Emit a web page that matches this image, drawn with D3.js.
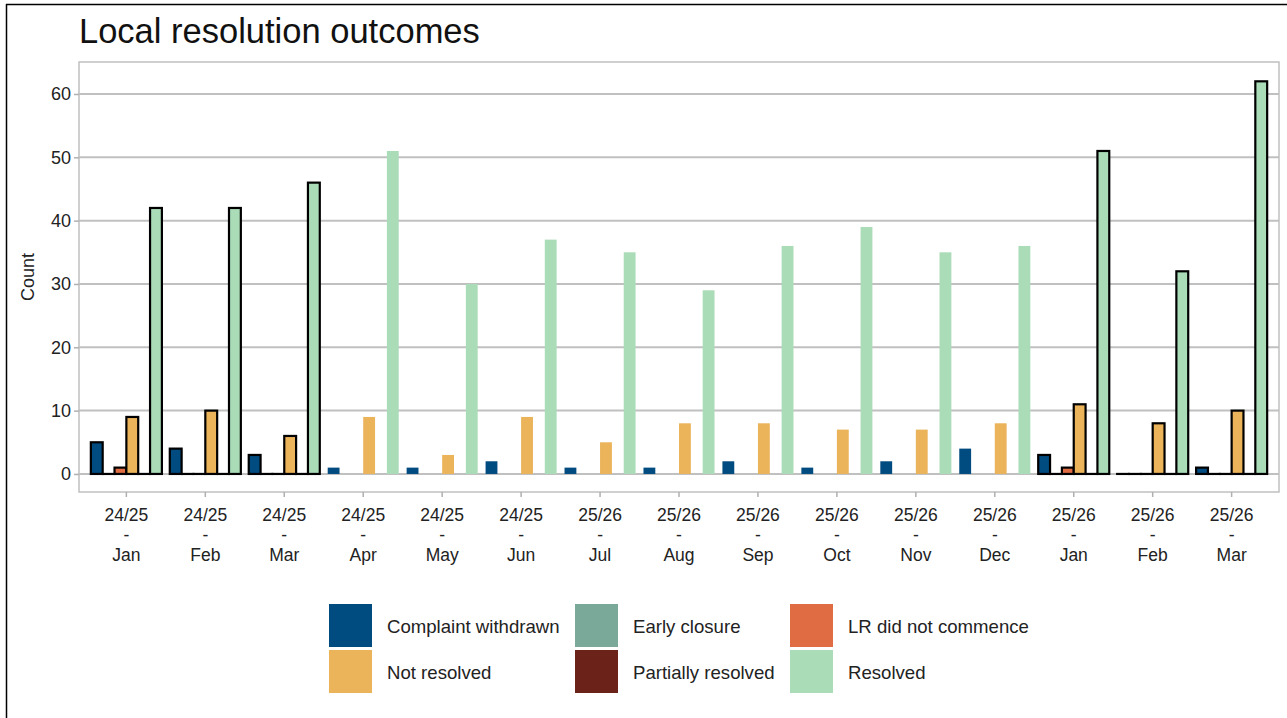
<!DOCTYPE html>
<html>
<head>
<meta charset="utf-8">
<script src="https://cdn.jsdelivr.net/npm/d3@7"></script>
<style>
  body { margin: 0; background: #fff; }
  svg { font-family: "Liberation Sans", Arial, sans-serif; display: block; }
</style>
</head>
<body>
<svg id="chart"></svg>
<script>
// months shown on the x axis (financial year / month)
const years = ["24/25","24/25","24/25","24/25","24/25","24/25","25/26","25/26","25/26","25/26","25/26","25/26","25/26","25/26","25/26"];
const months = ["Jan","Feb","Mar","Apr","May","Jun","Jul","Aug","Sep","Oct","Nov","Dec","Jan","Feb","Mar"];
// groups drawn with a black outline
const outlined = [true,true,true,false,false,false,false,false,false,false,false,false,true,true,true];

const seriesNames = ["Complaint withdrawn","Early closure","LR did not commence","Not resolved","Partially resolved","Resolved"];
const seriesColors = ["#004b7f","#7aa99a","#e06c44","#ebb35a","#6b2219","#aadcb8"];

const complaintWithdrawn = [5,4,3,1,1,2,1,1,2,1,2,4,3,0,1];
const earlyClosure       = [0,0,0,0,0,0,0,0,0,0,0,0,0,0,0];
const lrNotCommence      = [1,0,0,0,0,0,0,0,0,0,0,0,1,0,0];
const notResolved        = [9,10,6,9,3,9,5,8,8,7,7,8,11,8,10];
const partiallyResolved  = [0,0,0,0,0,0,0,0,0,0,0,0,0,0,0];
const resolved           = [42,42,46,51,30,37,35,29,36,39,35,36,51,32,62];

const yTicks = [0,10,20,30,40,50,60];

const seriesValues = [complaintWithdrawn, earlyClosure, lrNotCommence, notResolved, partiallyResolved, resolved];
const keys = months.map((m, i) => i + "");

const W = 1287, H = 718;
const panel = {left: 79, right: 1279, top: 62, bottom: 492};

const svg = d3.select("#chart").attr("width", W).attr("height", H);

// outer frame (top and left edges only visible)
svg.append("line").attr("x1", 6).attr("x2", W).attr("y1", 4.5).attr("y2", 4.5)
    .attr("stroke", "#000").attr("stroke-width", 1.5);
svg.append("line").attr("x1", 6.5).attr("x2", 6.5).attr("y1", 4).attr("y2", H)
    .attr("stroke", "#000").attr("stroke-width", 1.5);

const x = d3.scaleBand()
    .domain(keys)
    .range([panel.left, panel.right])
    .paddingInner(0.1)
    .paddingOuter(0.15);

const xSub = d3.scaleBand()
    .domain(seriesNames)
    .range([0, x.bandwidth()])
    .padding(0);

const y = d3.scaleLinear()
    .domain([-2.85, 65.05])
    .range([panel.bottom, panel.top]);

// gridlines
svg.append("g")
  .selectAll("line")
  .data(yTicks)
  .join("line")
    .attr("x1", panel.left).attr("x2", panel.right)
    .attr("y1", d => y(d)).attr("y2", d => y(d))
    .attr("stroke", "#c0c0c0").attr("stroke-width", 2);

// panel border
svg.append("rect")
    .attr("x", panel.left).attr("y", panel.top)
    .attr("width", panel.right - panel.left).attr("height", panel.bottom - panel.top)
    .attr("fill", "none").attr("stroke", "#c0c0c0").attr("stroke-width", 1.5);

// y axis
const yAxis = d3.axisLeft(y).tickValues(yTicks).tickSize(5).tickPadding(3);
svg.append("g")
    .attr("transform", `translate(${panel.left},0)`)
    .call(yAxis)
    .call(g => g.select(".domain").remove())
    .call(g => g.selectAll(".tick line").attr("stroke", "#b0b0b0").attr("stroke-width", 1.5))
    .call(g => g.selectAll(".tick text").attr("fill", "#222").style("font-size", "18px"));

// x axis: three-line labels (year / dash / month)
const xAxis = d3.axisBottom(x).tickSize(5).tickFormat("");
const xAxisG = svg.append("g")
    .attr("transform", `translate(0,${panel.bottom})`)
    .call(xAxis)
    .call(g => g.select(".domain").remove())
    .call(g => g.selectAll(".tick line").attr("stroke", "#b0b0b0").attr("stroke-width", 1.5));

const lineY = [29, 49, 69];
xAxisG.selectAll(".tick").each(function(d, i) {
  const tick = d3.select(this);
  [years[i], "-", months[i]].forEach((s, k) => {
    tick.append("text")
        .attr("fill", "#222")
        .attr("text-anchor", "middle")
        .attr("y", lineY[k])
        .style("font-size", "17.5px")
        .text(s);
  });
});

// bars
const groups = svg.append("g")
  .selectAll("g")
  .data(keys)
  .join("g")
    .attr("transform", d => `translate(${x(d)},0)`);

const barData = (d, i) => seriesNames.map((s, j) => ({series: s, value: seriesValues[j][i], color: seriesColors[j], outline: outlined[i]}));

groups.selectAll("rect")
  .data((d, i) => barData(d, i).filter(b => b.value > 0))
  .join("rect")
    .attr("x", d => xSub(d.series))
    .attr("width", xSub.bandwidth())
    .attr("y", d => y(d.value))
    .attr("height", d => y(0) - y(d.value))
    .attr("fill", d => d.color)
    .attr("stroke", d => d.outline ? "#000" : "none")
    .attr("stroke-width", 2.2);

// zero-height bars in outlined groups still show their outline on the baseline
groups.selectAll("line.zero")
  .data((d, i) => barData(d, i).filter(b => b.value === 0 && b.outline))
  .join("line")
    .attr("class", "zero")
    .attr("x1", d => xSub(d.series) - 1.1)
    .attr("x2", d => xSub(d.series) + xSub.bandwidth() + 1.1)
    .attr("y1", y(0)).attr("y2", y(0))
    .attr("stroke", "#000")
    .attr("stroke-width", 2.2);

// axis titles
svg.append("text")
    .attr("transform", `translate(34,${(panel.top + panel.bottom) / 2}) rotate(-90)`)
    .attr("text-anchor", "middle")
    .style("font-size", "18px")
    .attr("fill", "#222")
    .text("Count");

svg.append("text")
    .attr("x", 79).attr("y", 43)
    .style("font-size", "34.5px")
    .attr("fill", "#111")
    .text("Local resolution outcomes");

// legend
const legendCols = [329, 575, 790];
const legendRows = [604, 650];
const legend = svg.append("g");
seriesNames.forEach((s, i) => {
  const col = i % 3, row = Math.floor(i / 3);
  legend.append("rect")
      .attr("x", legendCols[col]).attr("y", legendRows[row])
      .attr("width", 43).attr("height", 43)
      .attr("fill", seriesColors[i]);
  legend.append("text")
      .attr("x", legendCols[col] + 58).attr("y", legendRows[row] + 22)
      .attr("dy", "0.35em")
      .style("font-size", "18.6px")
      .attr("fill", "#222")
      .text(s);
});
</script>
</body>
</html>
